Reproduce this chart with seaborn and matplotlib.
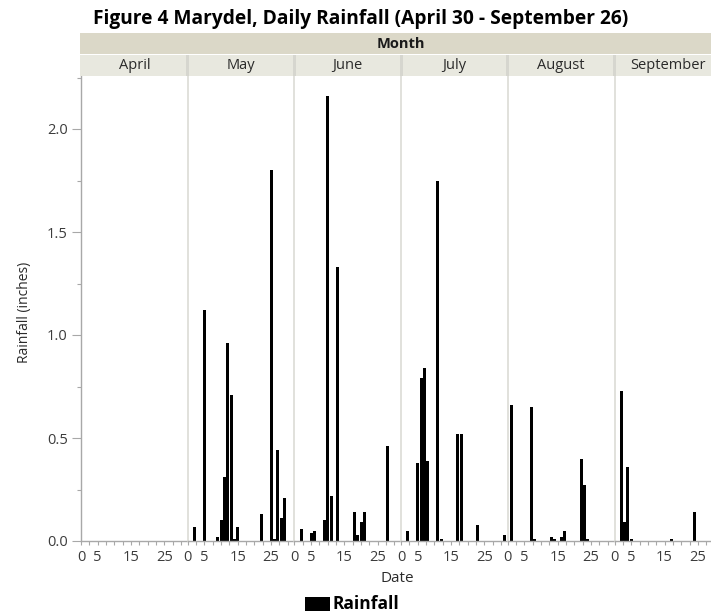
import numpy as np
import pandas as pd
import matplotlib
matplotlib.use("Agg")
import matplotlib.pyplot as plt
from matplotlib.patches import Rectangle
import seaborn as sns

# Daily rainfall at Marydel, April 30 - September 26 (inches), by month and day of month
months = ["April", "May", "June", "July", "August", "September"]

april_days = [30]
april_rain = [0.0]

may_days = [2, 5, 9, 10, 11, 12, 13, 14, 15, 22, 25, 26, 27, 28, 29]
may_rain = [0.07, 1.12, 0.02, 0.10, 0.31, 0.96, 0.71, 0.01, 0.07, 0.13, 1.80, 0.01, 0.44, 0.11, 0.21]

june_days = [2, 5, 6, 9, 10, 11, 13, 18, 19, 20, 21, 28]
june_rain = [0.06, 0.04, 0.05, 0.10, 2.16, 0.22, 1.33, 0.14, 0.03, 0.09, 0.14, 0.46]

july_days = [2, 5, 6, 7, 8, 11, 12, 17, 18, 23, 31]
july_rain = [0.05, 0.38, 0.79, 0.84, 0.39, 1.75, 0.01, 0.52, 0.52, 0.08, 0.03]

aug_days = [1, 7, 8, 13, 14, 16, 17, 22, 23, 24]
aug_rain = [0.66, 0.65, 0.01, 0.02, 0.01, 0.02, 0.05, 0.40, 0.27, 0.01]

sep_days = [2, 3, 4, 5, 17, 24]
sep_rain = [0.73, 0.09, 0.36, 0.01, 0.01, 0.14]

x_ticks = [0, 5, 10, 15, 20, 25, 30]
x_tick_labels = ["0", "5", "", "15", "", "25", ""]
y_ticks = [0.0, 0.5, 1.0, 1.5, 2.0]

frames = []
for m, d, r in zip(months,
                   [april_days, may_days, june_days, july_days, aug_days, sep_days],
                   [april_rain, may_rain, june_rain, july_rain, aug_rain, sep_rain]):
    frames.append(pd.DataFrame({"Month": m, "Day": d, "Rainfall": r}))
df = pd.concat(frames, ignore_index=True)

sns.set_theme(style="white")
plt.rcParams["font.family"] = ["Open Sans", "DejaVu Sans"]

W, H = 711, 613
fig = plt.figure(figsize=(W / 100, H / 100), dpi=100)
fig.patch.set_facecolor("white")


def fx(px):
    return px / W


def fy(py):
    return 1 - py / H


plot_left, plot_top, plot_bottom = 81.0, 75.0, 541.0
panel_w = 106.7
ymax = (plot_bottom - plot_top) / 206.0
tick_col = "#3c3c3c"
axis_col = "#a8a8a8"
sep_col = "#dcdcd6"

axes = []
for i, m in enumerate(months):
    left = plot_left + i * panel_w
    ax = fig.add_axes([fx(left), fy(plot_bottom), panel_w / W, (plot_bottom - plot_top) / H])
    sub = df[df["Month"] == m]
    sns.histplot(data=sub, x="Day", weights="Rainfall", discrete=True, shrink=0.88,
                 color="black", alpha=1.0, linewidth=0, ax=ax)
    ax.set_xlim(0, 32)
    ax.set_ylim(0, ymax)
    ax.set_xlabel("")
    ax.set_ylabel("")
    ax.set_xticks(x_ticks)
    ax.set_xticklabels(x_tick_labels)
    ax.set_xticks(np.arange(2.5, 30, 5), minor=True)
    ax.tick_params(axis="x", which="both", length=3, width=0.8, color=axis_col,
                   labelsize=10.5, labelcolor=tick_col, pad=3.5, bottom=True)
    for s in ["top", "right"]:
        ax.spines[s].set_visible(False)
    ax.spines["bottom"].set_color(axis_col)
    ax.spines["bottom"].set_linewidth(1.0)
    if i == 0:
        ax.spines["left"].set_color(axis_col)
        ax.spines["left"].set_linewidth(1.0)
        ax.set_yticks(y_ticks)
        ax.set_yticklabels([f"{v:.1f}" for v in y_ticks])
        ax.set_yticks(np.arange(0.25, 2.26, 0.5), minor=True)
        ax.tick_params(axis="y", which="major", length=6.5, width=0.8, color=axis_col,
                       labelsize=10.5, labelcolor=tick_col, pad=3, left=True)
        ax.tick_params(axis="y", which="minor", length=3, width=0.8, color=axis_col, left=True)
    else:
        ax.spines["left"].set_color(sep_col)
        ax.spines["left"].set_linewidth(1.2)
        ax.set_yticks([])
    ax.set_facecolor("none")
    axes.append(ax)

# Header bands: "Month" strip and one cell per month
right_edge = plot_left + 6 * panel_w
fig.add_artist(Rectangle((fx(80), fy(54)), (right_edge - 80) / W, 21 / H,
                         transform=fig.transFigure, facecolor="#dbd8c8", edgecolor="none"))
fig.add_artist(Rectangle((fx(80), fy(76)), (right_edge - 80) / W, 21 / H,
                         transform=fig.transFigure, facecolor="#e8e8df", edgecolor="none"))
fig.text(fx((80 + right_edge) / 2), fy(43.5), "Month", ha="center", va="center",
         fontsize=10.5, fontweight="bold", color="#1a1a1a")
for i, m in enumerate(months):
    left = plot_left + i * panel_w
    if i > 0:
        fig.add_artist(Rectangle((fx(left - 1.5), fy(76)), 3 / W, 21 / H,
                                 transform=fig.transFigure, facecolor="#d6d6cf", edgecolor="none"))
    fig.text(fx(left + panel_w / 2), fy(65.5), m, ha="center", va="center",
             fontsize=10.5, color="#2a2a2a")

fig.text(fx(93), fy(19), "Figure 4 Marydel, Daily Rainfall (April 30 - September 26)",
         ha="left", va="center", fontsize=13.8, fontweight="bold", color="black")
fig.text(fx(25), fy(312), "Rainfall (inches)", rotation=90, ha="center", va="center",
         fontsize=10, color="#2a2a2a")
fig.text(fx(397), fy(578), "Date", ha="center", va="center", fontsize=11, color="#2a2a2a")

# Legend swatch and label
fig.add_artist(Rectangle((fx(305), fy(611)), 25 / W, 14 / H,
                         transform=fig.transFigure, facecolor="black", edgecolor="none"))
fig.text(fx(333), fy(604), "Rainfall", ha="left", va="center", fontsize=12.5,
         fontweight="bold", color="black")

fig.savefig("out.png", dpi=100)
